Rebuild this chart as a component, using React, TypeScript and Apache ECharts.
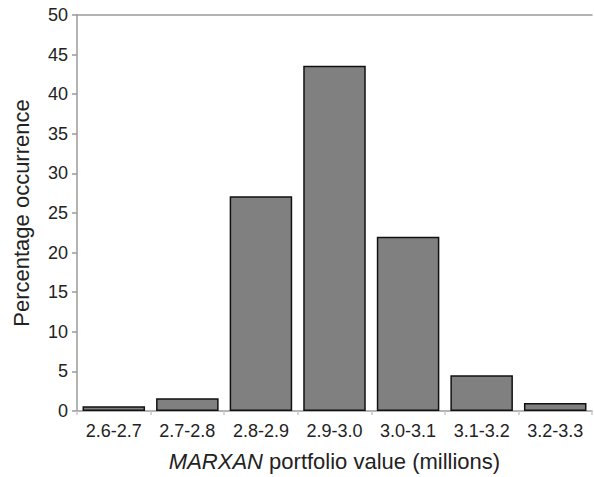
import React, { useEffect, useRef } from "react";
import * as echarts from "echarts";

const categories = ["2.6-2.7", "2.7-2.8", "2.8-2.9", "2.9-3.0", "3.0-3.1", "3.1-3.2", "3.2-3.3"];
const percentages = [0.6, 1.6, 27.1, 43.6, 22.0, 4.5, 1.0];
const yTicks = { min: 0, max: 50, interval: 5 };

const FONT = "'Liberation Sans', Arial, sans-serif";
const AXIS_GREY = "#9a9a9a";

export default function App() {
  const ref = useRef<HTMLDivElement>(null);
  useEffect(() => {
    if (!ref.current) return;
    const chart = echarts.init(ref.current, null, { renderer: "svg" });
    chart.setOption({
      animation: false,
      backgroundColor: "#ffffff",
      textStyle: { fontFamily: FONT },
      grid: { left: 77, right: 2, top: 15, bottom: 60, containLabel: false },
      xAxis: [
        {
          type: "category",
          data: categories,
          position: "bottom",
          axisLine: { show: true, lineStyle: { color: AXIS_GREY, width: 1.5 } },
          axisTick: { show: true, alignWithLabel: false, length: 4, lineStyle: { color: "#c8c8c8", width: 1.5 } },
          axisLabel: { color: "#222", fontSize: 18, margin: 11, fontFamily: FONT },
          name: "{i|MARXAN} portfolio value (millions)",
          nameLocation: "middle",
          nameGap: 39,
          nameTextStyle: {
            color: "#222",
            fontSize: 22,
            fontFamily: FONT,
            rich: {
              i: { fontStyle: "italic", fontSize: 22, color: "#222", fontFamily: FONT },
            },
          },
        },
        {
          type: "category",
          data: categories,
          position: "top",
          axisLine: { show: true, lineStyle: { color: AXIS_GREY, width: 1.5 } },
          axisTick: { show: false },
          axisLabel: { show: false },
        },
      ],
      yAxis: {
        type: "value",
        min: yTicks.min,
        max: yTicks.max,
        interval: yTicks.interval,
        axisLine: { show: true, lineStyle: { color: AXIS_GREY, width: 1.5 } },
        axisTick: { show: true, length: 5, lineStyle: { color: AXIS_GREY, width: 1.5 } },
        axisLabel: { color: "#222", fontSize: 18, margin: 9, fontFamily: FONT },
        splitLine: { show: false },
        name: "Percentage occurrence",
        nameLocation: "middle",
        nameGap: 45,
        nameTextStyle: { color: "#222", fontSize: 22, fontFamily: FONT },
      },
      series: [
        {
          type: "bar",
          data: percentages,
          xAxisIndex: 0,
          barCategoryGap: "15%",
          itemStyle: { color: "#808080", borderColor: "#111", borderWidth: 1.5 },
        },
      ],
    });
    return () => chart.dispose();
  }, []);
  return (
    <div
      ref={ref}
      style={{ position: "fixed", left: 0, top: 0, width: 594, height: 477 }}
    />
  );
}
